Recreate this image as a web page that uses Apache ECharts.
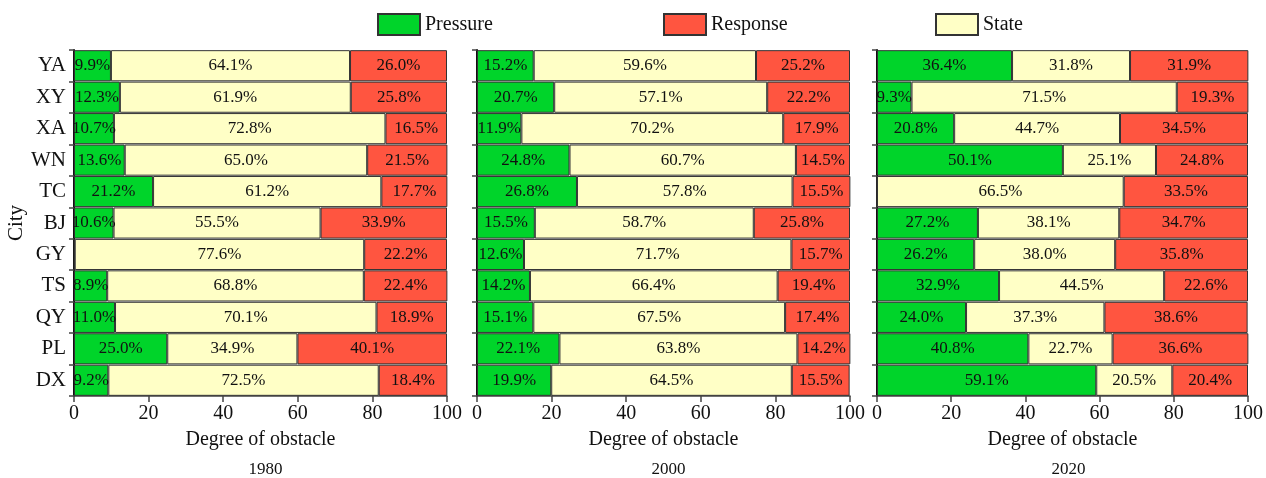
<!DOCTYPE html>
<html>
<head>
<meta charset="utf-8">
<script src="https://cdn.jsdelivr.net/npm/echarts@6/dist/echarts.min.js"></script>
<style>
  html, body { margin: 0; padding: 0; background: #fff; }
  #chart { width: 1266px; height: 478px; }
</style>
</head>
<body>
<div id="chart"></div>
<script>
// Cities, listed top to bottom
const cities = ['YA', 'XY', 'XA', 'WN', 'TC', 'BJ', 'GY', 'TS', 'QY', 'PL', 'DX'];
const years = ['1980', '2000', '2020'];
const xTicks = [0, 20, 40, 60, 80, 100];

// Obstacle degree (%) by subsystem
const pressure1980 = [9.9, 12.3, 10.7, 13.6, 21.2, 10.6, 0.2, 8.9, 11.0, 25.0, 9.2];
const state1980    = [64.1, 61.9, 72.8, 65.0, 61.2, 55.5, 77.6, 68.8, 70.1, 34.9, 72.5];
const response1980 = [26.0, 25.8, 16.5, 21.5, 17.7, 33.9, 22.2, 22.4, 18.9, 40.1, 18.4];

const pressure2000 = [15.2, 20.7, 11.9, 24.8, 26.8, 15.5, 12.6, 14.2, 15.1, 22.1, 19.9];
const state2000    = [59.6, 57.1, 70.2, 60.7, 57.8, 58.7, 71.7, 66.4, 67.5, 63.8, 64.5];
const response2000 = [25.2, 22.2, 17.9, 14.5, 15.5, 25.8, 15.7, 19.4, 17.4, 14.2, 15.5];

const pressure2020 = [36.4, 9.3, 20.8, 50.1, 0, 27.2, 26.2, 32.9, 24.0, 40.8, 59.1];
const state2020    = [31.8, 71.5, 44.7, 25.1, 66.5, 38.1, 38.0, 44.5, 37.3, 22.7, 20.5];
const response2020 = [31.9, 19.3, 34.5, 24.8, 33.5, 34.7, 35.8, 22.6, 38.6, 36.6, 20.4];

const panels = [
  { year: years[0], p: pressure1980, s: state1980, r: response1980 },
  { year: years[1], p: pressure2000, s: state2000, r: response2000 },
  { year: years[2], p: pressure2020, s: state2020, r: response2020 }
];

const FONT = '"Liberation Serif", "Times New Roman", serif';
const COLORS = { Pressure: '#00d42a', State: '#ffffc6', Response: '#ff5540' };
const gridLefts = [74, 477, 877];
const gridWidth = 373;

const grids = [], xAxes = [], yAxes = [], series = [], titles = [];

panels.forEach((pn, i) => {
  grids.push({ left: gridLefts[i], width: gridWidth, top: 50, bottom: 82 });
  xAxes.push({
    type: 'value', gridIndex: i, min: 0, max: 100, interval: 20,
    name: 'Degree of obstacle', nameLocation: 'middle', nameGap: 34,
    nameTextStyle: { fontFamily: FONT, fontSize: 20, color: '#111' },
    axisLine: { show: true, lineStyle: { color: '#444', width: 1.5 } },
    axisTick: { show: true, length: 6, lineStyle: { color: '#444', width: 1.5 } },
    axisLabel: {
      fontFamily: FONT, fontSize: 20, color: '#111', margin: 8,
      formatter: v => (xTicks.includes(v) ? String(v) : '')
    },
    splitLine: { show: false }
  });
  yAxes.push({
    type: 'category', gridIndex: i, data: cities, inverse: true,
    name: i === 0 ? 'City' : '', nameLocation: 'middle', nameGap: 46,
    nameTextStyle: { fontFamily: FONT, fontSize: 21, color: '#111' },
    axisLine: { show: true, lineStyle: { color: '#111', width: 2 } },
    axisTick: { show: true, length: 5, lineStyle: { color: '#444', width: 1.5 } },
    axisLabel: { show: i === 0, fontFamily: FONT, fontSize: 21, color: '#111', margin: 8 },
    splitLine: { show: false }
  });
  titles.push({
    text: pn.year, left: gridLefts[i] + gridWidth / 2, top: 456, textAlign: 'center',
    textStyle: { fontFamily: FONT, fontSize: 17, fontWeight: 'normal', color: '#111' }
  });
  [['Pressure', pn.p], ['State', pn.s], ['Response', pn.r]].forEach(([name, vals]) => {
    series.push({
      name, type: 'bar', stack: 'total' + i, xAxisIndex: i, yAxisIndex: i,
      data: vals, barCategoryGap: '1%',
      itemStyle: { color: COLORS[name], borderColor: '#333', borderWidth: 1 },
      label: {
        show: true, position: 'inside', fontFamily: FONT, fontSize: 17, color: '#111',
        formatter: p => (p.value >= 1 ? p.value.toFixed(1) + '%' : '')
      },
      emphasis: { disabled: true }
    });
  });
});

const legendBase = {
  top: 13, padding: 0, itemWidth: 42, itemHeight: 21, itemGap: 6, icon: 'rect',
  textStyle: { fontFamily: FONT, fontSize: 20, color: '#111' },
  selectedMode: false
};

const chart = echarts.init(document.getElementById('chart'), null, { renderer: 'canvas' });
chart.setOption({
  animation: false,
  backgroundColor: '#fff',
  title: titles,
  legend: [
    Object.assign({ left: 377, data: ['Pressure'] }, legendBase),
    Object.assign({ left: 663, data: ['Response'] }, legendBase),
    Object.assign({ left: 935, data: ['State'] }, legendBase)
  ],
  grid: grids,
  xAxis: xAxes,
  yAxis: yAxes,
  series
});
</script>
</body>
</html>
